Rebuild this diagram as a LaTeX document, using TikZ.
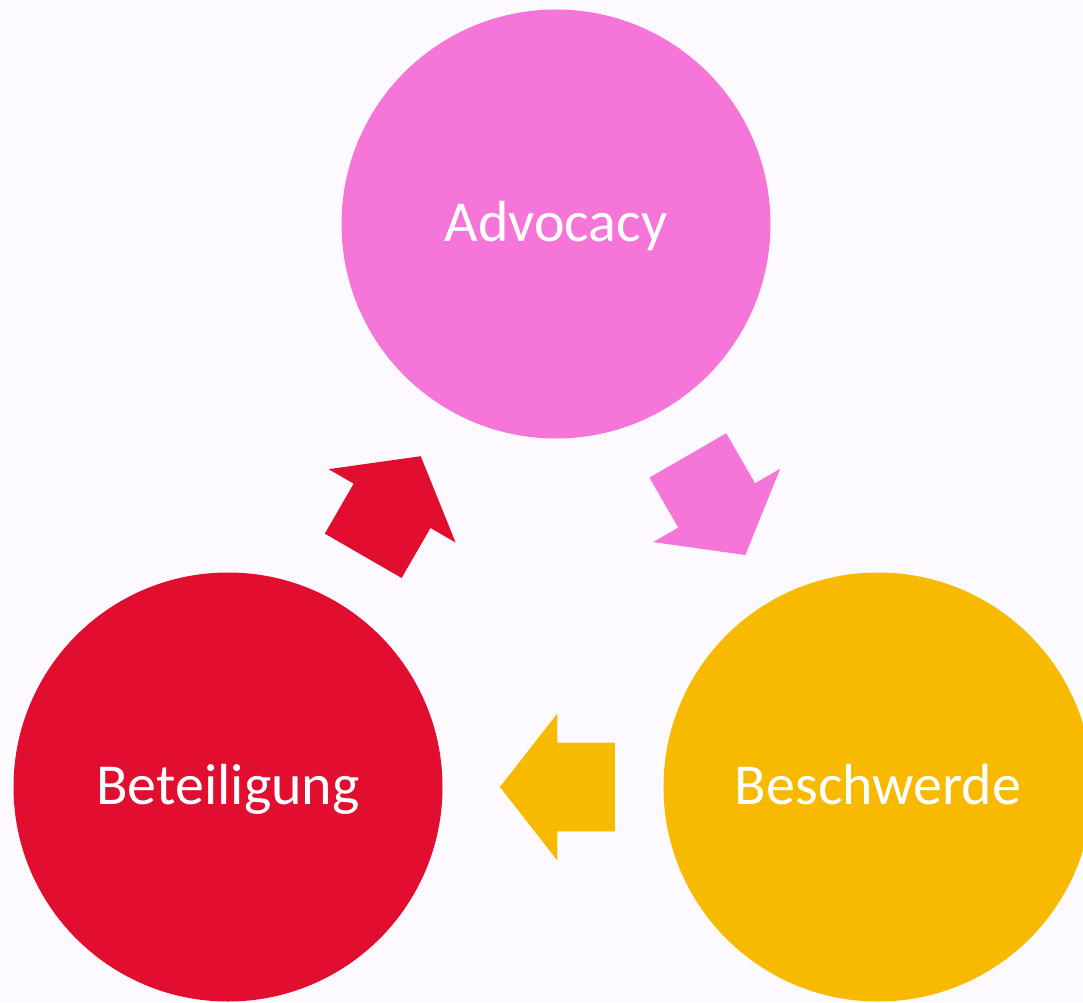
\documentclass[tikz,border=0pt]{standalone}
\usepackage{fontspec}
\setmainfont{Carlito}
\usepackage{tikz}
\usepackage{xcolor}
\usetikzlibrary{
    positioning,
    calc,
    shapes.arrows
}
\tikzset{
  stage/.style  = {circle, minimum size=8.58cm, inner sep=0pt,
                   text=white, font=\fontsize{33}{40}\selectfont,
                   text height=0.71cm, text depth=0pt},
  flow/.style   = {single arrow, minimum height=2.3cm, minimum width=2.92cm,
                   inner xsep=0pt, inner ysep=0.88cm,
                   single arrow head extend=0.58cm,
                   single arrow tip angle=104, anchor=tip}
}
\definecolor{advPink}{RGB}{245,118,216}
\definecolor{betRed}{RGB}{226,14,48}
\definecolor{besAmber}{RGB}{247,186,0}
\definecolor{bgLilac}{RGB}{252,250,254}

\begin{document}
\begin{tikzpicture}
    \useasboundingbox (0,0) rectangle (21.66,-20.04);
    \clip (0,0) rectangle (21.66,-20.04);
    \fill[bgLilac] (0,0) rectangle (21.66,-20.04);
    \node[stage, fill=advPink](adv) at (11.12,-4.48) {Advocacy};
    \node[stage, fill=besAmber](bes) at (17.56,-15.74) {Beschwerde};
    \node[stage, fill=betRed](bet) at (4.56,-15.74) {Beteiligung};
    \node[flow, fill=advPink, rotate=-60](f1) at ($(adv)!0.5!(bes)!1.15cm!(bes)$) {};
    \node[flow, fill=besAmber, rotate=180](f2) at ($(bes)!0.5!(bet)!1.07cm!(bet)$) {};
    \node[flow, fill=betRed, rotate=60](f3) at ($(bet)!0.5!(adv)!1.15cm!(adv)$) {};
\end{tikzpicture}
\end{document}
